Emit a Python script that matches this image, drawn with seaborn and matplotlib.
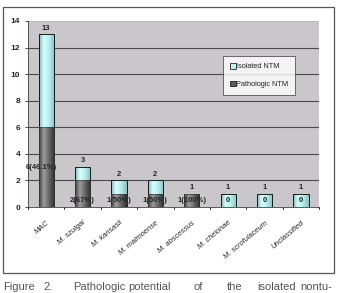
import numpy as np
import pandas as pd
import matplotlib
matplotlib.use("Agg")
import matplotlib.pyplot as plt
import seaborn as sns
from matplotlib.patches import Rectangle

categories = ["MAC", "M. szulgai", "M. kansasii", "M. malmoense",
              "M. abscessus", "M. chelonae", "M. scrofulaceum", "Unclassified"]
isolated = [13, 3, 2, 2, 1, 1, 1, 1]
pathologic = [6, 2, 1, 1, 1, 0, 0, 0]
path_labels = ["6(46.1%)", "2(67%)", "1(50%)", "1(50%)", "1(100%)", "0", "0", "0"]
yticks = [0, 2, 4, 6, 8, 10, 12, 14]

df = pd.DataFrame({"cat": categories, "iso": isolated, "path": pathologic})

sns.set_style("white")
plt.rcParams["font.family"] = ["Liberation Sans", "DejaVu Sans"]

fig = plt.figure(figsize=(3.37, 2.93), dpi=100)
ax = fig.add_axes([0.083, 0.2935, 0.864, 0.635])
ax.set_facecolor("#c9c7c9")

sns.barplot(data=df, x="cat", y="iso", ax=ax, color="#bff0f0", width=0.42,
            edgecolor="black", linewidth=0.6, saturation=1)
n_iso = len(ax.patches)
sns.barplot(data=df, x="cat", y="path", ax=ax, color="#606060", width=0.42,
            edgecolor="#303030", linewidth=0.4, saturation=1)

cyan_grad = np.array([[0x80, 0xb8, 0xb8], [0xd4, 0xff, 0xff], [0xbc, 0xf0, 0xf0],
                      [0x88, 0xc0, 0xc0]]) / 255.0
dark_grad = np.array([[0x3c, 0x3c, 0x3c], [0x9c, 0x9c, 0x9c], [0x6c, 0x6c, 0x6c],
                      [0x2c, 0x2c, 0x2c]]) / 255.0

def gradient(cols, n=64):
    xs = np.linspace(0, 1, n)
    stops = np.array([0.0, 0.3, 0.6, 1.0])
    img = np.stack([np.interp(xs, stops, cols[:, c]) for c in range(3)], axis=-1)
    return img[None, :, :]

for i, p in enumerate(ax.patches):
    h = p.get_height()
    if h <= 0:
        continue
    x0 = p.get_x(); w = p.get_width()
    g = cyan_grad if i < n_iso else dark_grad
    base_z = 2 + (1 if i >= n_iso else 0)
    im = ax.imshow(gradient(g), extent=[x0, x0 + w, 0, h], aspect="auto",
                   zorder=base_z)
    im.set_clip_path(p)
    p.set_facecolor("none")
    p.set_zorder(base_z + 0.1)

ax.set_xlim(-0.5, len(categories) - 0.5)
ax.set_ylim(0, 14)
ax.set_yticks(yticks)
ax.set_yticklabels([str(t) for t in yticks], fontsize=6, fontweight="bold")
ax.set_xticks(range(len(categories)))
ax.set_xticklabels(categories, rotation=40, ha="right", rotation_mode="anchor",
                   fontsize=5.4, style="italic")
ax.tick_params(axis="x", length=0, pad=9)
ax.tick_params(axis="y", length=2.5, width=0.6, pad=3, left=True)
for b in np.arange(-0.5, len(categories), 1.0):
    ax.plot([b, b], [0, -0.18], color="black", lw=0.6, clip_on=False)
ax.set_xlabel("")
ax.set_ylabel("")
for y in yticks[1:-1]:
    ax.axhline(y, color="#4a4a4a", lw=0.8, zorder=0.5)
ax.axhline(14, color="#b8b8b8", lw=0.6, zorder=0.5)
for s in ["top", "right"]:
    ax.spines[s].set_visible(False)
ax.spines["left"].set_color("#404040")
ax.spines["left"].set_linewidth(0.6)
ax.spines["bottom"].set_color("#404040")
ax.spines["bottom"].set_linewidth(0.6)

for i, (v, p, lab) in enumerate(zip(isolated, pathologic, path_labels)):
    ax.text(i, v + 0.2, str(v), ha="center", va="bottom", fontsize=5.5,
            fontweight="bold", zorder=5)
    if p > 2:
        ypos = p / 2
        xpos = i - 0.12
    else:
        ypos = 0.5
        xpos = i
    ax.text(xpos, ypos, lab, ha="center", va="center", fontsize=5.5,
            fontweight="bold", zorder=5)

handles = [Rectangle((0, 0), 1, 1, facecolor="#bff0f0", edgecolor="black", lw=0.5),
           Rectangle((0, 0), 1, 1, facecolor="#606060", edgecolor="black", lw=0.5)]
leg = ax.legend(handles, ["Isolated NTM", "Pathologic NTM"], loc="upper left",
                bbox_to_anchor=(0.67, 0.81), fontsize=5.3, frameon=True,
                fancybox=False, handlelength=0.8, handleheight=0.8,
                handletextpad=0.1, labelspacing=1.4, borderpad=0.9,
                borderaxespad=0)
leg.get_frame().set_edgecolor("#333333")
leg.get_frame().set_linewidth(0.6)
leg.set_zorder(10)

frame = Rectangle((3 / 337, 1 - 273 / 293), 331 / 337, 266 / 293,
                  transform=fig.transFigure, fill=False, edgecolor="#555555",
                  lw=0.9)
fig.patches.append(frame)

words = [("Figure", 3), ("2.", 43), ("Pathologic", 73), ("potential", 128),
         ("of", 193), ("the", 227), ("isolated", 257), ("nontu-", 300)]
for w, x in words:
    fig.text(x / 337, 1 - 292 / 293, w, fontsize=8, color="#555555",
             ha="left", va="bottom")

fig.savefig("out.png", dpi=100)
